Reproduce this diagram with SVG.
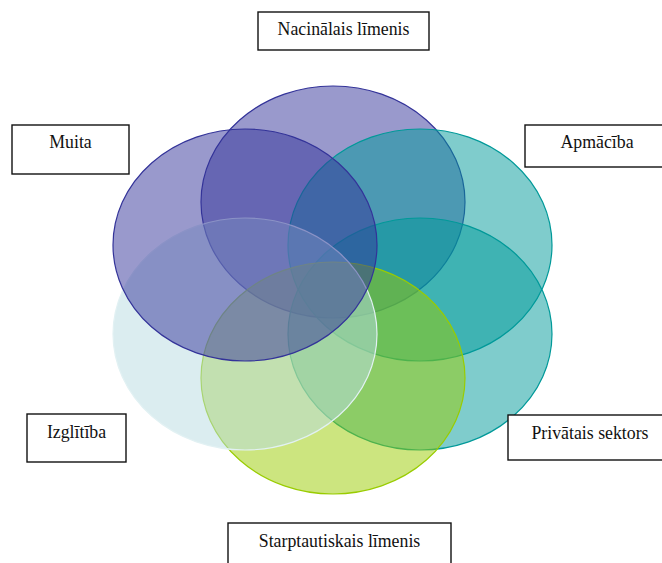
<svg xmlns="http://www.w3.org/2000/svg" width="662" height="563" viewBox="0 0 662 563">
  <style>
    .petal { fill-opacity: 0.5; stroke-width: 1.2; }
    .purple { fill: #333399; stroke: #333399; }
    .teal { fill: #009999; stroke: #009999; }
    .green { fill: #99CC00; stroke: #99CC00; }
    .pale { fill: #B7DBE1; stroke: #E2F1F3; }
    .box { fill: #FFFFFF; stroke: #111111; stroke-width: 1.4; }
    .label { font-family: "Liberation Serif", "Times New Roman", serif; font-size: 17.8px; fill: #111111; text-anchor: middle; }
  </style>
  <rect width="662" height="563" fill="#FFFFFF"/>

  <!-- overlapping ellipses, clockwise from the top -->
  <g id="venn">
    <ellipse id="e-top" class="petal purple" cx="333" cy="202" rx="132" ry="116"/>
    <ellipse id="e-top-right" class="petal teal" cx="420" cy="245" rx="132" ry="116"/>
    <ellipse id="e-bottom-right" class="petal teal" cx="420" cy="334" rx="132" ry="116"/>
    <ellipse id="e-bottom" class="petal green" cx="333" cy="378" rx="132" ry="116"/>
    <ellipse id="e-bottom-left" class="petal pale" cx="245" cy="334" rx="132" ry="116"/>
    <ellipse id="e-top-left" class="petal purple" cx="245" cy="245" rx="132" ry="116"/>
  </g>

  <g id="connectors"></g>

  <g id="n-nacionalais">
    <rect class="box" x="258" y="12" width="171" height="38"/>
    <text class="label" x="343.5" y="35">Nacinālais līmenis</text>
  </g>
  <g id="n-muita">
    <rect class="box" x="12" y="125" width="117" height="49"/>
    <text class="label" x="70.5" y="148">Muita</text>
  </g>
  <g id="n-apmaciba">
    <rect class="box" x="525" y="125" width="150" height="42"/>
    <text class="label" x="597" y="148">Apmācība</text>
  </g>
  <g id="n-izglitiba">
    <rect class="box" x="27" y="414" width="99" height="48"/>
    <text class="label" x="76.5" y="438">Izglītība</text>
  </g>
  <g id="n-privatais">
    <rect class="box" x="508" y="415" width="170" height="45"/>
    <text class="label" x="590" y="439">Privātais sektors</text>
  </g>
  <g id="n-starptautiskais">
    <rect class="box" x="228" y="523" width="223" height="50"/>
    <text class="label" x="339.5" y="547">Starptautiskais līmenis</text>
  </g>
</svg>
